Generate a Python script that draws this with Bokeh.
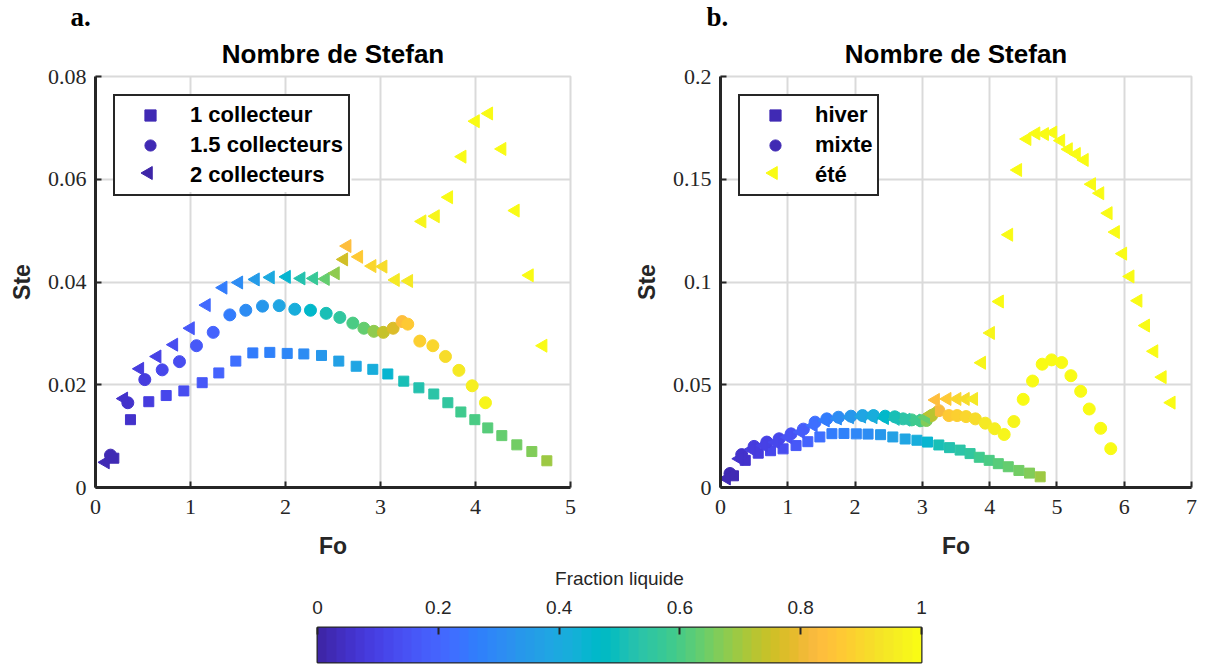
import numpy as np
from bokeh.plotting import figure
from bokeh.models import (LinearColorMapper, FixedTicker, Legend, LegendItem, Title,
                          ColumnDataSource, Range1d)
from bokeh.layouts import column, row
from bokeh.transform import transform
from bokeh.embed import file_html
from bokeh.resources import INLINE

# ---------------- data ----------------
# panel a: 1 collecteur (squares)
fo_1c = [0.193, 0.368, 0.561, 0.744, 0.930, 1.123, 1.298, 1.477, 1.656, 1.835, 2.018, 2.193, 2.379, 2.561,
         2.744, 2.919, 3.077, 3.245, 3.404, 3.561, 3.709, 3.846, 3.993, 4.129, 4.277, 4.435, 4.593, 4.751]
ste_1c = [0.0057, 0.0132, 0.0167, 0.0179, 0.0188, 0.0204, 0.0223, 0.0246, 0.0262, 0.0263, 0.0261, 0.0260, 0.0257,
          0.0246, 0.0236, 0.0230, 0.0221, 0.0207, 0.0194, 0.0182, 0.0165, 0.0147, 0.0132, 0.0116, 0.0101, 0.0083,
          0.0070, 0.0052]
frac_1c = [0.02, 0.05, 0.09, 0.11, 0.13, 0.16, 0.19, 0.22, 0.25, 0.27, 0.29, 0.31, 0.33, 0.36, 0.39, 0.42, 0.45,
           0.50, 0.52, 0.54, 0.56, 0.58, 0.60, 0.62, 0.63, 0.65, 0.67, 0.69]

# panel a: 1.5 collecteurs (circles)
fo_15c = [0.158, 0.340, 0.519, 0.702, 0.884, 1.063, 1.239, 1.414, 1.582, 1.758, 1.934, 2.098, 2.263, 2.428,
          2.572, 2.709, 2.825, 2.930, 3.030, 3.133, 3.228, 3.287, 3.414, 3.551, 3.684, 3.825, 3.965, 4.105]
ste_15c = [0.0063, 0.0165, 0.0210, 0.0229, 0.0245, 0.0276, 0.0302, 0.0336, 0.0345, 0.0353, 0.0354, 0.0347,
           0.0345, 0.0339, 0.0331, 0.0320, 0.0310, 0.0304, 0.0302, 0.0310, 0.0323, 0.0318, 0.0285, 0.0276,
           0.0255, 0.0228, 0.0198, 0.0165]
frac_15c = [0.02, 0.05, 0.09, 0.11, 0.14, 0.17, 0.20, 0.25, 0.30, 0.34, 0.38, 0.42, 0.46, 0.50, 0.55, 0.60,
            0.64, 0.68, 0.74, 0.78, 0.84, 0.86, 0.88, 0.90, 0.92, 0.94, 0.96, 0.98]

# panel a: 2 collecteurs (left triangles)
fo_2c = [0.105, 0.298, 0.467, 0.649, 0.825, 1.000, 1.168, 1.344, 1.509, 1.684, 1.842, 2.011, 2.165, 2.298,
         2.421, 2.526, 2.614, 2.649, 2.772, 2.912, 3.028, 3.158, 3.298, 3.438, 3.579, 3.719, 3.860, 4.000,
         4.140, 4.280, 4.420, 4.568, 4.712]
ste_2c = [0.0049, 0.0173, 0.0231, 0.0255, 0.0278, 0.0310, 0.0355, 0.0389, 0.0399, 0.0405, 0.0409, 0.0410,
          0.0407, 0.0407, 0.0406, 0.0417, 0.0444, 0.0470, 0.0449, 0.0431, 0.0430, 0.0404, 0.0402, 0.0518,
          0.0528, 0.0565, 0.0644, 0.0713, 0.0728, 0.0659, 0.0539, 0.0413, 0.0276]
frac_2c = [0.02, 0.05, 0.08, 0.10, 0.13, 0.16, 0.21, 0.26, 0.30, 0.35, 0.40, 0.45, 0.52, 0.57, 0.63, 0.68,
           0.75, 0.84, 0.86, 0.90, 0.92, 0.94, 0.95, 0.98, 0.98, 0.99, 0.99, 1.0, 1.0, 1.0, 1.0, 1.0, 1.0]

# panel b: hiver (squares) - same series as 1 collecteur
fo_hiver = list(fo_1c)
ste_hiver = list(ste_1c)
frac_hiver = list(frac_1c)

# panel b: mixte (circles)
fo_mixte = [0.141, 0.315, 0.499, 0.688, 0.871, 1.049, 1.232, 1.406, 1.580, 1.753, 1.938, 2.110, 2.274, 2.448,
            2.590, 2.714, 2.842, 2.975, 3.060, 3.138, 3.246, 3.394, 3.517, 3.650, 3.788, 3.936, 4.074, 4.216,
            4.360, 4.499, 4.638, 4.781, 4.921, 5.070, 5.208, 5.353, 5.480, 5.650, 5.800]
ste_mixte = [0.0068, 0.0160, 0.0200, 0.0221, 0.0237, 0.0261, 0.0284, 0.0318, 0.0334, 0.0342, 0.0347, 0.0350,
             0.0350, 0.0347, 0.0344, 0.0334, 0.0329, 0.0325, 0.0326, 0.0350, 0.0374, 0.0350, 0.0350, 0.0345,
             0.0334, 0.0313, 0.0286, 0.0258, 0.0321, 0.0429, 0.0518, 0.0600, 0.0621, 0.0608, 0.0544, 0.0468,
             0.0382, 0.0288, 0.0189]
frac_mixte = [0.02, 0.05, 0.08, 0.10, 0.12, 0.15, 0.18, 0.22, 0.26, 0.30, 0.34, 0.38, 0.42, 0.46, 0.50, 0.54,
              0.58, 0.62, 0.66, 0.72, 0.82, 0.86, 0.88, 0.90, 0.92, 0.94, 0.96, 0.97, 0.98, 0.99, 0.99, 1.0,
              1.0, 1.0, 1.0, 1.0, 1.0, 1.0, 1.0]

# panel b: été (left triangles)
fo_ete = [0.09, 0.28, 0.46, 0.64, 0.82, 1.00, 1.19, 1.38, 1.56, 1.74, 1.92, 2.10, 2.27, 2.44, 2.60, 2.76,
          2.91, 3.05, 3.123, 3.197, 3.369, 3.517, 3.640, 3.764, 3.882, 4.015, 4.148, 4.286, 4.419, 4.557,
          4.690, 4.818, 4.941, 5.059, 5.172, 5.291, 5.409, 5.517, 5.640, 5.764, 5.872, 5.980, 6.089, 6.207,
          6.320, 6.443, 6.567, 6.700]
ste_ete = [0.0044, 0.0140, 0.0185, 0.0205, 0.0220, 0.0245, 0.0270, 0.0302, 0.0326, 0.0336, 0.0342, 0.0345,
           0.0342, 0.0338, 0.0334, 0.0330, 0.0326, 0.0342, 0.0358, 0.0426, 0.0431, 0.0431, 0.0431, 0.0431,
           0.0607, 0.0752, 0.0905, 0.1230, 0.1545, 0.1696, 0.1723, 0.1720, 0.1727, 0.1688, 0.1646, 0.1623,
           0.1594, 0.1476, 0.1432, 0.1335, 0.1243, 0.1138, 0.1027, 0.0909, 0.0788, 0.0663, 0.0537, 0.0413]
frac_ete = [0.02, 0.05, 0.08, 0.10, 0.12, 0.15, 0.18, 0.22, 0.26, 0.30, 0.34, 0.38, 0.42, 0.46, 0.50, 0.54,
            0.58, 0.64, 0.72, 0.84, 0.87, 0.90, 0.92, 0.94, 0.97, 0.98, 0.99, 1.0, 1.0, 1.0, 1.0, 1.0, 1.0,
            1.0, 1.0, 1.0, 1.0, 1.0, 1.0, 1.0, 1.0, 1.0, 1.0, 1.0, 1.0, 1.0, 1.0, 1.0]

x_ticks_a = [0, 1, 2, 3, 4, 5]
y_ticks_a = [0, 0.02, 0.04, 0.06, 0.08]
y_labels_a = ["0", "0.02", "0.04", "0.06", "0.08"]
x_ticks_b = [0, 1, 2, 3, 4, 5, 6, 7]
y_ticks_b = [0, 0.05, 0.1, 0.15, 0.2]
y_labels_b = ["0", "0.05", "0.1", "0.15", "0.2"]
cb_ticks = [0, 0.2, 0.4, 0.6, 0.8, 1]
cb_labels = ["0", "0.2", "0.4", "0.6", "0.8", "1"]

# ---------------- style ----------------
PARULA_RGB = [
    (0.2422, 0.1504, 0.6603), (0.2504, 0.1650, 0.7076), (0.2578, 0.1818, 0.7511), (0.2647, 0.1978, 0.7952),
    (0.2706, 0.2147, 0.8364), (0.2751, 0.2342, 0.8710), (0.2783, 0.2559, 0.8991), (0.2803, 0.2782, 0.9221),
    (0.2813, 0.3006, 0.9414), (0.2810, 0.3228, 0.9579), (0.2795, 0.3447, 0.9717), (0.2760, 0.3667, 0.9829),
    (0.2699, 0.3892, 0.9906), (0.2602, 0.4123, 0.9952), (0.2440, 0.4358, 0.9988), (0.2206, 0.4603, 0.9973),
    (0.1963, 0.4847, 0.9892), (0.1834, 0.5074, 0.9798), (0.1786, 0.5289, 0.9682), (0.1764, 0.5499, 0.9520),
    (0.1687, 0.5703, 0.9359), (0.1540, 0.5902, 0.9218), (0.1460, 0.6091, 0.9079), (0.1380, 0.6276, 0.8973),
    (0.1248, 0.6459, 0.8883), (0.1113, 0.6635, 0.8763), (0.0952, 0.6798, 0.8598), (0.0689, 0.6948, 0.8394),
    (0.0297, 0.7082, 0.8163), (0.0036, 0.7203, 0.7917), (0.0067, 0.7312, 0.7660), (0.0433, 0.7411, 0.7394),
    (0.0964, 0.7500, 0.7120), (0.1408, 0.7584, 0.6842), (0.1717, 0.7670, 0.6554), (0.1938, 0.7758, 0.6251),
    (0.2161, 0.7843, 0.5923), (0.2470, 0.7918, 0.5567), (0.2906, 0.7973, 0.5188), (0.3406, 0.8008, 0.4789),
    (0.3909, 0.8029, 0.4354), (0.4456, 0.8024, 0.3909), (0.5044, 0.7993, 0.3480), (0.5616, 0.7942, 0.3045),
    (0.6174, 0.7876, 0.2612), (0.6720, 0.7793, 0.2227), (0.7242, 0.7698, 0.1910), (0.7738, 0.7598, 0.1646),
    (0.8203, 0.7498, 0.1535), (0.8634, 0.7406, 0.1596), (0.9035, 0.7330, 0.1774), (0.9393, 0.7288, 0.2100),
    (0.9728, 0.7298, 0.2394), (0.9956, 0.7434, 0.2371), (0.9970, 0.7659, 0.2199), (0.9952, 0.7893, 0.2028),
    (0.9892, 0.8136, 0.1885), (0.9786, 0.8386, 0.1766), (0.9676, 0.8639, 0.1643), (0.9610, 0.8890, 0.1537),
    (0.9597, 0.9135, 0.1423), (0.9628, 0.9373, 0.1265), (0.9691, 0.9606, 0.1064), (0.9769, 0.9839, 0.0805)]
PARULA = ["#%02x%02x%02x" % tuple(int(round(c * 255)) for c in rgb) for rgb in PARULA_RGB]
mapper = LinearColorMapper(palette=PARULA, low=0, high=1)

DARK = "#262626"
GRID = "#dadada"
SANS = "Liberation Sans"
SERIF = "Liberation Serif"
TOP, BOTTOM, FRAME_H = 76, 72, 413

# legend geometry (pixels, measured from the frame's top-left corner)
LG_MARGIN, LG_PAD, LG_ROW, LG_SPACING, LG_GLYPH_W = 18, 5, 28, 2, 60
LG_H = 2 * LG_PAD + 3 * LG_ROW + 2 * LG_SPACING


def make_panel(width, xmax, ymax, xticks, yticks, ylabels, b_left, b_right, letter, letter_offset):
    p = figure(width=width, height=TOP + FRAME_H + BOTTOM, x_range=Range1d(0, xmax), y_range=Range1d(0, ymax),
               output_backend="svg", toolbar_location=None, title=None,
               min_border_left=b_left, min_border_right=b_right, min_border_top=TOP, min_border_bottom=BOTTOM)
    p.add_layout(Title(text="Nombre de Stefan", align="center", text_font=SANS, text_font_size="26px",
                       text_font_style="bold", text_color="black", standoff=16), "above")
    p.add_layout(Title(text=letter, align="left", offset=letter_offset, text_font=SERIF,
                       text_font_size="27px", text_font_style="bold", text_color="black", standoff=-6), "above")
    p.outline_line_color = GRID
    p.outline_line_width = 2
    p.xaxis.ticker = FixedTicker(ticks=xticks)
    p.yaxis.ticker = FixedTicker(ticks=yticks)
    p.yaxis.major_label_overrides = {t: l for t, l in zip(yticks, ylabels)}
    p.xaxis.major_label_overrides = {t: str(t) for t in xticks}
    for ax in (p.xaxis[0], p.yaxis[0]):
        ax.axis_line_color = DARK
        ax.axis_line_width = 3
        ax.major_tick_in = 6
        ax.major_tick_out = 0
        ax.major_tick_line_color = DARK
        ax.major_tick_line_width = 2
        ax.minor_tick_line_color = None
        ax.major_label_text_font = SERIF
        ax.major_label_text_font_size = "22px"
        ax.major_label_text_color = DARK
        ax.axis_label_text_font = SANS
        ax.axis_label_text_font_size = "23px"
        ax.axis_label_text_font_style = "bold"
        ax.axis_label_text_color = DARK
    p.yaxis.major_label_standoff = 9
    p.yaxis.axis_label_standoff = 10
    p.xaxis.major_label_standoff = 12
    p.xaxis.axis_label_standoff = 16
    p.xaxis.axis_label = "Fo"
    p.yaxis.axis_label = "Ste"
    p.grid.grid_line_color = GRID
    p.grid.grid_line_width = 2
    return p


def add_series(p, fo, ste, frac, marker, size, angle=0.0):
    src = ColumnDataSource(dict(fo=fo, ste=ste, f=frac))
    return p.scatter(x="fo", y="ste", source=src, marker=marker, size=size, angle=angle,
                     fill_color=transform("f", mapper), line_color=transform("f", mapper))


def add_legend(p, labels, renderers, indices, frame_w, box_w, xmax, ymax, tri_color):
    # Bokeh legends do not rotate markers: the box is filled by a white quad drawn under a
    # left-pointing triangle symbol, and the legend itself only draws text, border and the
    # square / circle symbols.
    def to_x(px):
        return px / frame_w * xmax

    def to_y(py):
        return ymax * (1 - py / FRAME_H)

    p.quad(left=[to_x(LG_MARGIN)], right=[to_x(LG_MARGIN + box_w)], top=[to_y(LG_MARGIN)],
           bottom=[to_y(LG_MARGIN + LG_H)], fill_color="white", line_color=None)
    px = LG_MARGIN + LG_PAD + LG_GLYPH_W / 2
    py = LG_MARGIN + LG_PAD + 2 * (LG_ROW + LG_SPACING) + LG_ROW / 2
    p.scatter(x=[to_x(px)], y=[to_y(py)], marker="triangle", angle=np.pi / 2, size=13, color=tri_color)
    ghost = p.scatter(x=[], y=[], marker="triangle", fill_alpha=0, line_alpha=0)
    items = [LegendItem(label=labels[0], renderers=[renderers[0]], index=indices[0]),
             LegendItem(label=labels[1], renderers=[renderers[1]], index=indices[1]),
             LegendItem(label=labels[2], renderers=[ghost])]
    lg = Legend(items=items, location="top_left", margin=LG_MARGIN, padding=LG_PAD, spacing=LG_SPACING,
                label_height=LG_ROW, glyph_width=LG_GLYPH_W, glyph_height=LG_ROW, label_standoff=10,
                border_line_color=DARK, border_line_width=2, border_line_alpha=1.0,
                background_fill_alpha=0,
                label_text_font=SANS, label_text_font_size="22px", label_text_font_style="bold",
                label_text_color="black")
    p.add_layout(lg)


# ---------------- panel a ----------------
pa = make_panel(600, 5, 0.08, x_ticks_a, y_ticks_a, y_labels_a, 95, 30, "a.", -25)
ra1 = add_series(pa, fo_1c, ste_1c, frac_1c, "square", 10)
ra2 = add_series(pa, fo_15c, ste_15c, frac_15c, "circle", 12)
ra3 = add_series(pa, fo_2c, ste_2c, frac_2c, "triangle", 13, np.pi / 2)
add_legend(pa, ["1 collecteur", "1.5 collecteurs", "2 collecteurs"], [ra1, ra2], [0, 0],
           475, 238, 5, 0.08, PARULA[0])

# ---------------- panel b ----------------
pb = make_panel(606, 7, 0.2, x_ticks_b, y_ticks_b, y_labels_b, 120, 15, "b.", -14)
rb1 = add_series(pb, fo_hiver, ste_hiver, frac_hiver, "square", 10)
rb2 = add_series(pb, fo_mixte, ste_mixte, frac_mixte, "circle", 12)
rb3 = add_series(pb, fo_ete, ste_ete, frac_ete, "triangle", 13, np.pi / 2)
add_legend(pb, ["hiver", "mixte", "été"], [rb1, rb2], [0, 0], 471, 139, 7, 0.2, PARULA[-1])

# ---------------- colour bar ----------------
CB_H = 664 - (TOP + FRAME_H + BOTTOM)
pc = figure(width=1206, height=CB_H, x_range=Range1d(0, 1), y_range=Range1d(0, 1),
            output_backend="svg", toolbar_location=None, x_axis_location="above", y_axis_location=None,
            min_border_left=317, min_border_right=285, min_border_top=CB_H - 37, min_border_bottom=2)
grad = np.linspace(0, 1, 256).reshape(1, -1)
pc.image(image=[grad], x=0, y=0, dw=1, dh=1, color_mapper=mapper)
pc.grid.visible = False
pc.outline_line_color = DARK
pc.outline_line_width = 2
cax = pc.xaxis[0]
cax.ticker = FixedTicker(ticks=cb_ticks)
cax.major_label_overrides = {t: l for t, l in zip(cb_ticks, cb_labels)}
cax.axis_line_color = None
cax.major_tick_in = 7
cax.major_tick_out = 0
cax.major_tick_line_color = DARK
cax.major_tick_line_width = 2
cax.minor_tick_line_color = None
cax.major_label_text_font = SANS
cax.major_label_text_font_size = "19px"
cax.major_label_text_color = DARK
cax.major_label_standoff = 14
cax.axis_label = "Fraction liquide"
cax.axis_label_text_font = SANS
cax.axis_label_text_font_size = "19px"
cax.axis_label_text_font_style = "normal"
cax.axis_label_text_color = DARK
cax.axis_label_standoff = 9

layout = column(row(pa, pb), pc)
open("out.html", "w").write(file_html(layout, INLINE))
